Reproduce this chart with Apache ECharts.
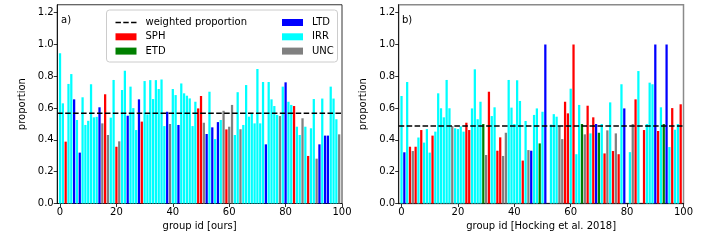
<!DOCTYPE html>
<html><head><meta charset="utf-8">
<script src="https://cdn.jsdelivr.net/npm/echarts@6/dist/echarts.min.js"></script>
<style>html,body{margin:0;padding:0;background:#fff}#c{width:720px;height:240px}</style>
</head><body><div id="c"></div>
<script>
// ---- data ----
const classNames = ['SPH', 'ETD', 'LTD', 'IRR', 'UNC'];
const classColors = { SPH: '#ff0000', ETD: '#008000', LTD: '#0000ff', IRR: '#00ffff', UNC: '#808080' };

// panel a) group id [ours]
const classA = [
 'IRR','IRR','SPH','IRR','IRR','LTD','IRR','LTD','IRR','IRR',
 'IRR','IRR','IRR','IRR','LTD','UNC','SPH','UNC','IRR','IRR',
 'SPH','UNC','IRR','IRR','LTD','IRR','IRR','IRR','LTD','SPH',
 'IRR','IRR','IRR','IRR','IRR','IRR','IRR','IRR','LTD','UNC',
 'IRR','IRR','LTD','IRR','IRR','IRR','IRR','IRR','IRR','SPH',
 'SPH','UNC','LTD','IRR','LTD','IRR','LTD','IRR','UNC','SPH',
 'UNC','UNC','IRR','IRR','UNC','IRR','IRR','IRR','IRR','IRR',
 'IRR','IRR','IRR','LTD','IRR','IRR','IRR','IRR','UNC','IRR',
 'LTD','IRR','IRR','SPH','IRR','IRR','UNC','IRR','SPH','IRR',
 'IRR','UNC','LTD','IRR','LTD','LTD','IRR','IRR','IRR','UNC'
];
const valuesA = [
 0.945,0.63,0.389,0.752,0.814,0.655,0.525,0.32,0.668,0.494,
 0.52,0.75,0.542,0.545,0.605,0.504,0.687,0.431,0.54,0.777,
 0.357,0.391,0.714,0.835,0.552,0.735,0.6,0.462,0.655,0.515,
 0.77,0.56,0.776,0.657,0.776,0.72,0.78,0.487,0.577,0.5,
 0.72,0.682,0.494,0.755,0.693,0.678,0.661,0.487,0.64,0.598,
 0.676,0.508,0.437,0.703,0.479,0.405,0.512,0.525,0.583,0.466,
 0.483,0.62,0.431,0.70,0.467,0.494,0.745,0.546,0.567,0.504,
 0.846,0.504,0.764,0.372,0.764,0.655,0.613,0.557,0.55,0.735,
 0.762,0.64,0.62,0.613,0.483,0.431,0.536,0.483,0.299,0.473,
 0.657,0.282,0.372,0.66,0.427,0.427,0.735,0.66,0.53,0.435
];
const weightedA = 0.567;

// panel b) group id [Hocking et al. 2018]
const classB = [
 'IRR','LTD','IRR','SPH','UNC','SPH','IRR','SPH','IRR','IRR',
 'IRR','SPH','IRR','IRR','IRR','IRR','IRR','IRR','UNC','IRR',
 'IRR','IRR','IRR','SPH','SPH','IRR','IRR','IRR','IRR','ETD',
 'UNC','SPH','IRR','IRR','SPH','SPH','UNC','UNC','IRR','IRR',
 'IRR','IRR','IRR','SPH','IRR','UNC','LTD','IRR','IRR','ETD',
 'IRR','LTD',null,'IRR','IRR','IRR','UNC','UNC','SPH','SPH',
 'IRR','SPH','IRR','IRR','ETD','UNC','SPH','IRR','SPH','LTD',
 'ETD','IRR','SPH','UNC','IRR','SPH','UNC','SPH','IRR','LTD',
 null,'IRR','UNC','SPH','IRR',null,'SPH','IRR','IRR','IRR',
 'LTD','SPH','IRR','ETD','LTD','IRR','SPH','IRR','IRR','SPH'
];
const valuesB = [
 0.676,0.322,0.764,0.357,0.33,0.357,0.415,0.462,0.383,0.468,
 0.32,0.427,0.452,0.693,0.599,0.542,0.777,0.599,0.487,0.473,
 0.468,0.485,0.452,0.508,0.462,0.598,0.844,0.53,0.64,0.5,
 0.305,0.703,0.55,0.605,0.332,0.416,0.299,0.445,0.777,0.603,
 0.5,0.775,0.645,0.27,0.519,0.336,0.332,0.557,0.598,0.378,
 0.577,1.0,null,0.496,0.562,0.546,0.488,0.405,0.64,0.567,
 0.722,1.0,0.31,0.62,0.5,0.435,0.615,0.441,0.542,0.5,
 0.445,0.5,0.315,0.46,0.636,0.33,0.441,0.31,0.75,0.598,
 null,0.323,0.5,0.655,0.833,null,0.462,0.5,0.76,0.75,
 1.0,0.456,0.605,0.5,1.0,0.355,0.6,0.464,0.5,0.624
];
const weightedB = 0.488;

const xTicks = [0, 20, 40, 60, 80, 100];
const yTicks = [0, 0.2, 0.4, 0.6, 0.8, 1.0, 1.2];
const xNames = ['group id [ours]', 'group id [Hocking et al. 2018]'];
const yName = 'proportion';
const panelLabels = ['a)', 'b)'];
const lineName = 'weighted proportion';

// ---- chart ----
const FONT = 'DejaVu Sans';
const panels = [
  { classes: classA, values: valuesA, w: weightedA, left: 57.2, border: '#000', bw: 0.8 },
  { classes: classB, values: valuesB, w: weightedB, left: 398.7, border: '#8a8a8a', bw: 1.5 }
];
const txt = { fontSize: 10, color: '#000', fontFamily: FONT };

const grids = [], xAxes = [], yAxes = [], series = [];
panels.forEach((p, k) => {
  grids.push({ left: p.left, top: 4.75, width: 284.8, height: 198.75, show: true,
    borderColor: p.border, borderWidth: p.bw, backgroundColor: 'transparent' });
  xAxes.push({ gridIndex: k, type: 'value', min: -1, max: 100,
    splitLine: { show: false },
    axisLine: { onZero: false, lineStyle: { color: '#000', width: 0.8 } },
    axisTick: { customValues: xTicks, length: 3.5, lineStyle: { color: '#000', width: 0.8 } },
    axisLabel: { customValues: xTicks, margin: 3.5, ...txt },
    name: xNames[k], nameLocation: 'middle', nameGap: 16, nameTextStyle: txt });
  yAxes.push({ gridIndex: k, type: 'value', min: 0, max: 1.25,
    splitLine: { show: false },
    axisLine: { onZero: false, lineStyle: { color: '#000', width: 0.8 } },
    axisTick: { customValues: yTicks, length: 3.5, lineStyle: { color: '#000', width: 0.8 } },
    axisLabel: { customValues: yTicks, margin: 3.5, formatter: v => v.toFixed(1), ...txt },
    name: yName, nameLocation: 'middle', nameGap: 30, nameTextStyle: txt });
  const data = [];
  p.classes.forEach((cl, i) => {
    if (cl && p.values[i] != null) data.push({ value: [i, p.values[i]], itemStyle: { color: classColors[cl] } });
  });
  series.push({ type: 'bar', name: 'groups', xAxisIndex: k, yAxisIndex: k, barWidth: 2.26,
    data, animation: false, silent: true });
  series.push({ type: 'line', name: lineName, xAxisIndex: k, yAxisIndex: k, z: 5,
    data: [[-1, p.w], [100, p.w]], symbol: 'none', silent: true, animation: false,
    itemStyle: { color: '#000' },
    lineStyle: { color: '#000', width: 1.5, type: [5.55, 2.4] } });
});
// legend-only entries for the classes
classNames.forEach(c => {
  series.push({ type: 'line', name: c, xAxisIndex: 0, yAxisIndex: 0, data: [], symbol: 'none',
    itemStyle: { color: classColors[c] }, lineStyle: { color: classColors[c] } });
});

const dashIcon = 'path://M0,-2.75M0,4.25M0,0h5.55v1.5h-5.55zM7.95,0h5.55v1.5h-5.55zM15.9,0h5.55v1.5h-5.55z';
const legendCommon = { orient: 'vertical', top: 12.5, itemWidth: 21, itemHeight: 7, itemGap: 4.3,
  textStyle: { ...txt, padding: [0, 0, 0, 4] }, selectedMode: false, z: 6 };

const chart = echarts.init(document.getElementById('c'), null, { renderer: 'canvas' });
chart.setOption({
  animation: false,
  grid: grids, xAxis: xAxes, yAxis: yAxes, series,
  legend: [
    { ...legendCommon, left: 110.5, data: [
      { name: lineName, icon: dashIcon, itemStyle: { color: '#000' } },
      { name: 'SPH', icon: 'rect' }, { name: 'ETD', icon: 'rect' }] },
    { ...legendCommon, left: 277, data: [
      { name: 'LTD', icon: 'rect' }, { name: 'IRR', icon: 'rect' }, { name: 'UNC', icon: 'rect' }] }
  ],
  graphic: [
    { type: 'rect', z: 5, shape: { x: 106.5, y: 10, width: 231, height: 52, r: 3 },
      style: { fill: 'rgba(255,255,255,0.8)', stroke: '#cccccc', lineWidth: 1 } },
    { type: 'text', z: 6, left: 61, top: 15, style: { text: panelLabels[0], font: '10px "DejaVu Sans"', fill: '#000' } },
    { type: 'text', z: 6, left: 402, top: 15, style: { text: panelLabels[1], font: '10px "DejaVu Sans"', fill: '#000' } }
  ]
});
</script>
</body></html>
